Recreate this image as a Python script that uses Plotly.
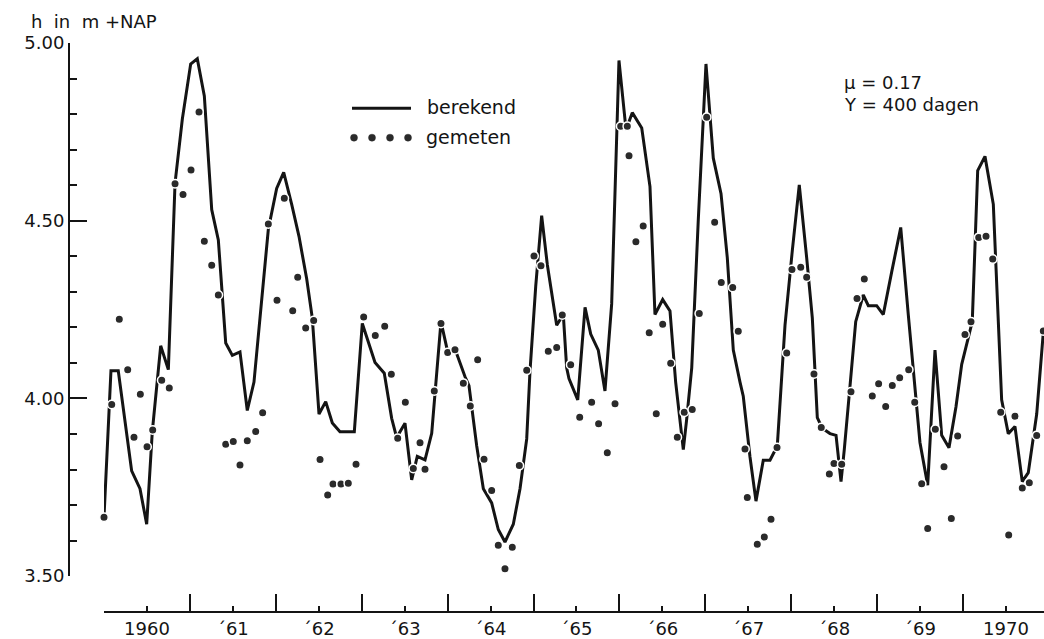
import plotly.graph_objects as go

# Computed stage ("berekend"): polyline vertices, decimal years / m +NAP
calc_t = [1960.000, 1960.081, 1960.166, 1960.322, 1960.419, 1960.497, 1960.562, 1960.620,
          1960.660, 1960.749, 1960.827, 1960.912, 1961.009, 1961.086, 1961.168, 1961.254,
          1961.331, 1961.417, 1961.494, 1961.583, 1961.668, 1961.746, 1961.913, 1962.010,
          1962.092, 1962.185, 1962.270, 1962.360, 1962.425, 1962.503, 1962.581, 1962.658,
          1962.747, 1962.914, 1963.007, 1963.155, 1963.263, 1963.349, 1963.407, 1963.504,
          1963.582, 1963.647, 1963.737, 1963.815, 1963.923, 1964.001, 1964.086, 1964.203,
          1964.249, 1964.339, 1964.416, 1964.513, 1964.590, 1964.668, 1964.765, 1964.843,
          1964.921, 1964.959, 1965.026, 1965.095, 1965.161, 1965.270, 1965.347, 1965.386,
          1965.413, 1965.515, 1965.600, 1965.666, 1965.754, 1965.832, 1965.910, 1965.995,
          1966.077, 1966.150, 1966.260, 1966.356, 1966.414, 1966.504, 1966.589, 1966.655,
          1966.744, 1966.783, 1966.842, 1966.919, 1967.008, 1967.093, 1967.183, 1967.256,
          1967.326, 1967.404, 1967.442, 1967.520, 1967.590, 1967.675, 1967.753, 1967.838,
          1967.928, 1968.013, 1968.094, 1968.180, 1968.246, 1968.304, 1968.362, 1968.452,
          1968.522, 1968.580, 1968.618, 1968.685, 1968.751, 1968.839, 1968.898, 1968.995,
          1969.072, 1969.170, 1969.275, 1969.363, 1969.441, 1969.499, 1969.589, 1969.674,
          1969.752, 1969.837, 1969.918, 1969.985, 1970.108, 1970.171, 1970.256, 1970.353,
          1970.450, 1970.527, 1970.605, 1970.690, 1970.760, 1970.858, 1970.935]
calc_h = [3.666, 4.078, 4.078, 3.796, 3.746, 3.646, 3.906, 4.061,
          4.148, 4.081, 4.606, 4.786, 4.941, 4.956, 4.851, 4.531,
          4.446, 4.156, 4.121, 4.131, 3.966, 4.046, 4.476, 4.591,
          4.636, 4.546, 4.456, 4.336, 4.226, 3.956, 3.991, 3.931,
          3.906, 3.906, 4.211, 4.101, 4.071, 3.944, 3.890, 3.930,
          3.771, 3.837, 3.827, 3.902, 4.216, 4.131, 4.139, 4.061,
          4.036, 3.866, 3.746, 3.706, 3.631, 3.596, 3.646, 3.746,
          3.886, 4.076, 4.316, 4.514, 4.376, 4.206, 4.236, 4.086,
          4.056, 3.996, 4.256, 4.181, 4.136, 4.021, 4.266, 4.951,
          4.756, 4.804, 4.761, 4.596, 4.236, 4.278, 4.246, 4.046,
          3.856, 3.941, 4.086, 4.506, 4.941, 4.676, 4.576, 4.396,
          4.136, 4.046, 4.006, 3.836, 3.711, 3.826, 3.826, 3.866,
          4.206, 4.416, 4.601, 4.396, 4.226, 3.946, 3.916, 3.901,
          3.896, 3.766, 3.856, 4.036, 4.216, 4.291, 4.261, 4.261,
          4.236, 4.356, 4.481, 4.236, 4.016, 3.876, 3.756, 4.136,
          3.896, 3.861, 3.976, 4.096, 4.216, 4.641, 4.681, 4.546,
          3.996, 3.901, 3.921, 3.766, 3.791, 3.956, 4.186]

# Measured stage ("gemeten")
meas_t = [1960.000, 1960.090, 1960.178, 1960.276, 1960.349, 1960.423, 1960.501, 1960.567,
          1960.672, 1960.760, 1960.827, 1960.920, 1961.013, 1961.106, 1961.168, 1961.254,
          1961.331, 1961.417, 1961.505, 1961.583, 1961.668, 1961.766, 1961.847, 1961.913,
          1962.014, 1962.099, 1962.197, 1962.255, 1962.348, 1962.441, 1962.515, 1962.604,
          1962.666, 1962.759, 1962.844, 1962.934, 1963.023, 1963.158, 1963.268, 1963.345,
          1963.419, 1963.508, 1963.601, 1963.679, 1963.737, 1963.845, 1963.923, 1964.001,
          1964.086, 1964.183, 1964.264, 1964.350, 1964.424, 1964.513, 1964.590, 1964.668,
          1964.753, 1964.835, 1964.921, 1965.006, 1965.087, 1965.172, 1965.270, 1965.335,
          1965.433, 1965.538, 1965.677, 1965.758, 1965.859, 1965.949, 1966.015, 1966.092,
          1966.112, 1966.192, 1966.277, 1966.347, 1966.429, 1966.504, 1966.597, 1966.674,
          1966.755, 1966.848, 1966.930, 1967.016, 1967.109, 1967.186, 1967.319, 1967.384,
          1967.462, 1967.489, 1967.605, 1967.687, 1967.765, 1967.835, 1967.948, 1968.009,
          1968.111, 1968.180, 1968.265, 1968.350, 1968.444, 1968.498, 1968.588, 1968.696,
          1968.766, 1968.851, 1968.944, 1969.018, 1969.100, 1969.177, 1969.263, 1969.368,
          1969.438, 1969.519, 1969.589, 1969.678, 1969.779, 1969.864, 1969.938, 1970.023,
          1970.093, 1970.183, 1970.268, 1970.346, 1970.439, 1970.532, 1970.605, 1970.690,
          1970.772, 1970.858, 1970.935]
meas_h = [3.666, 3.983, 4.223, 4.081, 3.891, 4.012, 3.864, 3.911,
          4.051, 4.029, 4.604, 4.574, 4.643, 4.806, 4.442, 4.375,
          4.291, 3.871, 3.879, 3.813, 3.881, 3.907, 3.960, 4.491,
          4.276, 4.563, 4.247, 4.341, 4.198, 4.219, 3.828, 3.728,
          3.759, 3.759, 3.761, 3.815, 4.229, 4.177, 4.203, 4.068,
          3.888, 3.989, 3.803, 3.875, 3.801, 4.021, 4.211, 4.129,
          4.137, 4.043, 3.979, 4.109, 3.829, 3.741, 3.587, 3.521,
          3.581, 3.811, 4.079, 4.401, 4.373, 4.133, 4.143, 4.235,
          4.095, 3.947, 3.989, 3.929, 3.847, 3.985, 4.766, 4.766,
          4.683, 4.441, 4.485, 4.185, 3.957, 4.209, 4.099, 3.891,
          3.961, 3.969, 4.239, 4.791, 4.496, 4.326, 4.312, 4.189,
          3.858, 3.721, 3.590, 3.610, 3.660, 3.862, 4.128, 4.363,
          4.369, 4.341, 4.069, 3.918, 3.787, 3.817, 3.815, 4.019,
          4.281, 4.336, 4.007, 4.041, 3.977, 4.036, 4.058, 4.081,
          3.989, 3.760, 3.634, 3.913, 3.808, 3.662, 3.894, 4.180,
          4.216, 4.453, 4.456, 4.392, 3.961, 3.616, 3.950, 3.748,
          3.763, 3.896, 4.190]

year_labels = ["1960", "´61", "´62", "´63", "´64", "´65", "´66", "´67", "´68", "´69", "1970"]
h_major = [3.50, 4.00, 4.50, 5.00]
h_labels = ["3.50", "4.00", "4.50", "5.00"]

W, H = 1044, 639
M_T, M_B = 43, 25
INK = "#141414"
DOT = "#2a2a2a"
FONT = "DejaVu Sans"

year_centres = [1960.5 + i for i in range(len(year_labels))]
year_starts = [1960 + i for i in range(len(year_labels))]
h_minor = [round(3.5 + 0.1 * i, 1) for i in range(16) if i % 5 != 0]

fig = go.Figure()
fig.add_trace(go.Scatter(
    x=calc_t, y=calc_h, mode="lines", name="berekend",
    line=dict(color=INK, width=3), cliponaxis=False, showlegend=False))
fig.add_trace(go.Scatter(
    x=meas_t, y=meas_h, mode="markers", name="gemeten",
    marker=dict(size=8.5, color=DOT, line=dict(color="white", width=1.5)),
    cliponaxis=False, showlegend=False))

plot_h = H - M_T - M_B


def py(y_px):
    """pixel row -> paper y"""
    return (H - M_B - y_px) / plot_h


def px(x_px):
    return x_px / W


# legend keys
fig.add_shape(type="line", xref="paper", yref="paper", x0=px(352), x1=px(411),
              y0=py(108.5), y1=py(108.5), line=dict(color=INK, width=3))
for cx in (354, 372, 390, 408):
    r = 3.5
    fig.add_shape(type="circle", xref="paper", yref="paper",
                  x0=px(cx - r), x1=px(cx + r), y0=py(138 + r), y1=py(138 - r),
                  fillcolor=DOT, line=dict(color=DOT, width=0.5))

texts = [
    ("berekend", 425, 107.5, 19),
    ("gemeten", 424, 137, 19),
    ("h  in  m +NAP", 29, 21, 18),
    ("µ = 0.17", 842, 83, 18),
    ("Y = 400 dagen", 842, 104.5, 18),
]
for txt, x0, yc, fs in texts:
    fig.add_annotation(text=txt, xref="paper", yref="paper", x=px(x0), y=py(yc),
                       xanchor="left", yanchor="middle", showarrow=False,
                       font=dict(family=FONT, size=fs, color=INK))

fig.update_layout(
    width=W, height=H, margin=dict(l=0, r=0, t=M_T, b=M_B),
    paper_bgcolor="white", plot_bgcolor="white", showlegend=False,
    xaxis=dict(
        domain=[104 / W, 1], range=[1960, 1970.943], anchor="free", position=0,
        showline=True, linecolor=INK, linewidth=2, showgrid=False, zeroline=False,
        tickmode="array", tickvals=year_centres, ticktext=year_labels,
        ticks="inside", ticklen=5, tickwidth=2, tickcolor=INK,
        tickfont=dict(family=FONT, size=18, color=INK),
        minor=dict(tickmode="array", tickvals=year_starts, ticks="inside",
                   ticklen=17, tickwidth=2, tickcolor=INK, showgrid=False),
    ),
    yaxis=dict(
        domain=[(H - M_B - 578) / plot_h, 1], range=[3.5, 5.0],
        anchor="free", position=69 / W,
        showline=True, linecolor=INK, linewidth=2, showgrid=False, zeroline=False,
        tickmode="array", tickvals=h_major, ticktext=h_labels,
        ticks="inside", ticklen=17, tickwidth=2, tickcolor=INK,
        tickfont=dict(family=FONT, size=18, color=INK),
        minor=dict(tickmode="array", tickvals=h_minor, ticks="inside",
                   ticklen=7, tickwidth=2, tickcolor=INK, showgrid=False),
    ),
)

fig.write_html("out.html")
